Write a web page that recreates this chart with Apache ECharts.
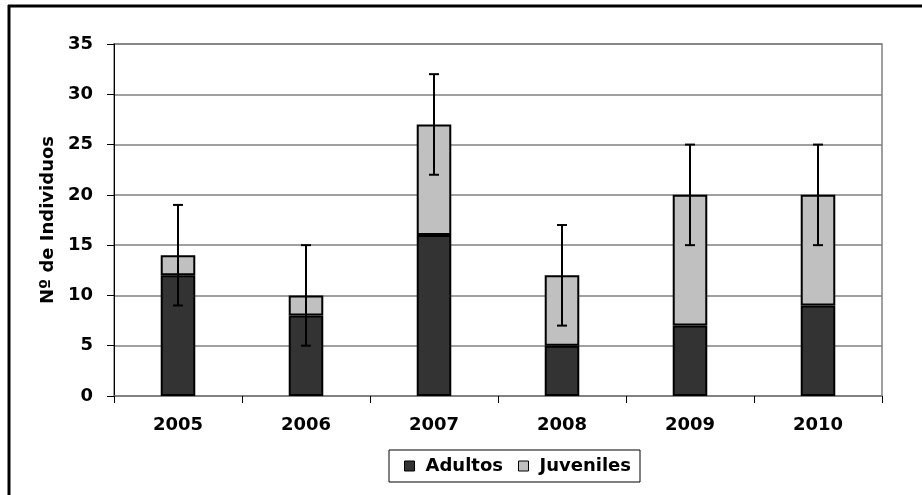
<!DOCTYPE html>
<html><head><meta charset="utf-8">
<script src="https://cdn.jsdelivr.net/npm/echarts@6/dist/echarts.min.js"></script>
<style>html,body{margin:0;padding:0;background:#fff}#c{width:922px;height:495px}</style>
</head><body><div id="c"></div>
<script>
const years = ['2005','2006','2007','2008','2009','2010'];
const adultos = [12, 8, 16, 5, 7, 9];
const juveniles = [2, 2, 11, 7, 13, 11];
const errores = [5, 5, 5, 5, 5, 5];

const totals = adultos.map((a, i) => a + juveniles[i]);
const errData = totals.map((t, i) => [i, t - errores[i], t + errores[i]]);

const font = 'DejaVu Sans, Arial, sans-serif';
const chart = echarts.init(document.getElementById('c'));
chart.setOption({
  animation: false,
  backgroundColor: '#fff',
  graphic: [
    { type: 'line', shape: { x1: 8, y1: 6, x2: 922, y2: 6 }, style: { stroke: '#000', lineWidth: 3 }, silent: true },
    { type: 'line', shape: { x1: 9, y1: 5, x2: 9, y2: 495 }, style: { stroke: '#000', lineWidth: 3 }, silent: true }
  ],
  grid: { left: 114, right: 40, top: 44, bottom: 99, show: true, borderColor: '#808080', borderWidth: 1.5, backgroundColor: 'transparent' },
  legend: {
    bottom: 13, left: 389,
    data: ['Adultos', 'Juveniles'],
    icon: 'rect',
    itemWidth: 10, itemHeight: 10, itemGap: 15,
    padding: [7, 9, 7, 15],
    borderColor: '#000', borderWidth: 1,
    itemStyle: { borderWidth: 1, borderColor: '#000' },
    textStyle: { fontFamily: font, fontWeight: 'bold', fontSize: 18, color: '#000', padding: [0, 0, 0, 6] }
  },
  xAxis: {
    type: 'category', data: years,
    axisLine: { lineStyle: { color: '#808080', width: 1.5 } },
    axisTick: { show: true, length: 7, lineStyle: { color: '#000' } },
    axisLabel: { fontFamily: font, fontWeight: 'bold', fontSize: 18, color: '#000', margin: 20 }
  },
  yAxis: {
    type: 'value', min: 0, max: 35, interval: 5,
    name: 'Nº de Individuos', nameLocation: 'middle', nameGap: 57, nameRotate: 90,
    nameTextStyle: { fontFamily: font, fontWeight: 'bold', fontSize: 18, color: '#000' },
    axisLine: { show: true, lineStyle: { color: '#000', width: 1 } },
    axisTick: { show: true, length: 7, lineStyle: { color: '#000' } },
    splitLine: { lineStyle: { color: '#808080', width: 1.5 } },
    axisLabel: { fontFamily: font, fontWeight: 'bold', fontSize: 18, color: '#000', margin: 21 }
  },
  series: [
    { name: 'Adultos', type: 'bar', stack: 'a', data: adultos, barWidth: '27%',
      itemStyle: { color: '#333333', borderColor: '#000', borderWidth: 2 } },
    { name: 'Juveniles', type: 'bar', stack: 'a', data: juveniles, barWidth: '27%',
      itemStyle: { color: '#c0c0c0', borderColor: '#000', borderWidth: 2 } },
    { name: 'err', type: 'custom', data: errData, z: 10,
      renderItem: function (params, api) {
        const x = api.value(0);
        const lo = api.coord([x, api.value(1)]);
        const hi = api.coord([x, api.value(2)]);
        const hw = 5;
        const st = { stroke: '#000', lineWidth: 2 };
        return { type: 'group', children: [
          { type: 'line', shape: { x1: lo[0], y1: lo[1], x2: hi[0], y2: hi[1] }, style: st },
          { type: 'line', shape: { x1: lo[0]-hw, y1: lo[1], x2: lo[0]+hw, y2: lo[1] }, style: st },
          { type: 'line', shape: { x1: hi[0]-hw, y1: hi[1], x2: hi[0]+hw, y2: hi[1] }, style: st }
        ]};
      },
      encode: { x: 0, y: [1, 2] }
    }
  ]
});
</script></body></html>
